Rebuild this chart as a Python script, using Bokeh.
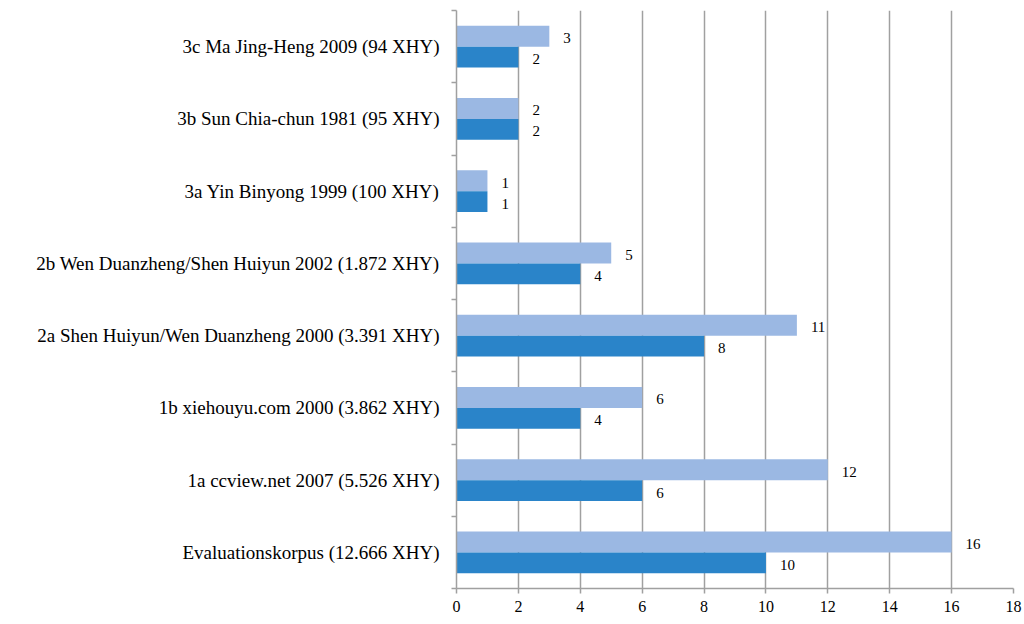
from bokeh.plotting import figure
from bokeh.models import ColumnDataSource, FixedTicker, Range1d
from bokeh.transform import dodge
from bokeh.core.properties import value
from bokeh.embed import file_html
from bokeh.resources import INLINE

# Corpora, bottom to top
categories = [
    "Evaluationskorpus (12.666 XHY)",
    "1a ccview.net 2007 (5.526 XHY)",
    "1b xiehouyu.com 2000 (3.862 XHY)",
    "2a Shen Huiyun/Wen Duanzheng 2000 (3.391 XHY)",
    "2b Wen Duanzheng/Shen Huiyun 2002 (1.872 XHY)",
    "3a Yin Binyong 1999 (100 XHY)",
    "3b Sun Chia-chun 1981 (95 XHY)",
    "3c Ma Jing-Heng 2009 (94 XHY)",
]
series_light = [16, 12, 6, 11, 5, 1, 2, 3]
series_dark = [10, 6, 4, 8, 4, 1, 2, 2]
x_ticks = [0, 2, 4, 6, 8, 10, 12, 14, 16, 18]

FONT = "Liberation Serif"
GRID = "#A0A0A0"
LIGHT = "#9BB8E3"
DARK = "#2A84C9"

centers = [i + 0.5 for i in range(len(categories))]
src = ColumnDataSource(dict(
    y=centers,
    light=series_light,
    dark=series_dark,
    light_txt=[str(v) for v in series_light],
    dark_txt=[str(v) for v in series_dark],
))

p = figure(width=1024, height=624, output_backend="svg", toolbar_location=None,
           x_range=Range1d(0, 18), y_range=Range1d(0, len(categories)),
           min_border_left=456, min_border_right=11, min_border_top=10,
           min_border_bottom=36)
p.outline_line_color = None
p.background_fill_color = "white"
p.border_fill_color = "white"

bh = 0.29
p.hbar(y=dodge("y", bh / 2), left=0, right="light", height=bh, source=src,
       fill_color=LIGHT, line_color=None)
p.hbar(y=dodge("y", -bh / 2), left=0, right="dark", height=bh, source=src,
       fill_color=DARK, line_color=None)

for col, txt, off in (("light", "light_txt", bh / 2), ("dark", "dark_txt", -bh / 2)):
    p.text(x=col, y=dodge("y", off), text=txt, source=src,
           x_offset=14, y_offset=2, text_baseline="middle", text_align="left",
           text_font=value(FONT), text_font_size="15px", text_color="black")

# x axis
p.xaxis.ticker = FixedTicker(ticks=x_ticks)
p.xaxis.axis_line_color = GRID
p.xaxis.axis_line_width = 1.5
p.xaxis.major_tick_line_color = GRID
p.xaxis.major_tick_line_width = 1.5
p.xaxis.major_tick_out = 5
p.xaxis.major_tick_in = 0
p.xaxis.minor_tick_line_color = None
p.xaxis.major_label_text_font = FONT
p.xaxis.major_label_text_font_size = "16px"
p.xaxis.major_label_text_color = "black"
p.xaxis.major_label_standoff = 7

# y axis: labels at band centres, tick marks at band edges
edges = [float(i) for i in range(len(categories) + 1)]
p.yaxis.ticker = FixedTicker(ticks=centers, minor_ticks=edges)
p.yaxis.major_label_overrides = {c: lab for c, lab in zip(centers, categories)}
p.yaxis.axis_line_color = GRID
p.yaxis.axis_line_width = 1.5
p.yaxis.major_tick_line_color = None
p.yaxis.minor_tick_line_color = GRID
p.yaxis.minor_tick_line_width = 1.5
p.yaxis.minor_tick_out = 5
p.yaxis.minor_tick_in = 0
p.yaxis.major_label_text_font = FONT
p.yaxis.major_label_text_font_size = "19px"
p.yaxis.major_label_text_color = "black"
p.yaxis.major_label_standoff = 11

p.xgrid.ticker = FixedTicker(ticks=x_ticks)
p.xgrid.grid_line_color = GRID
p.xgrid.grid_line_width = 1.5
p.ygrid.grid_line_color = None

open("out.html", "w").write(file_html(p, INLINE))
